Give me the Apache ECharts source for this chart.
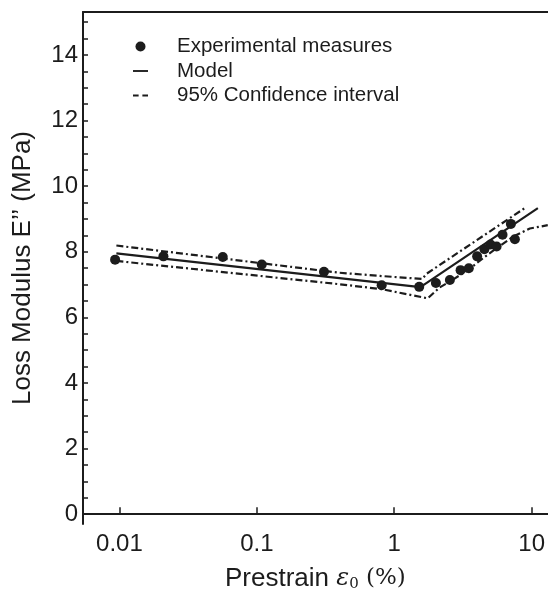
<!DOCTYPE html>
<html>
<head>
<meta charset="utf-8">
<script src="https://cdn.jsdelivr.net/npm/echarts@6/dist/echarts.min.js"></script>
<style>html,body{margin:0;padding:0;background:#fff;}#c{width:548px;height:597px;}</style>
</head>
<body>
<div id="c"></div>
<script>
// Experimental measures (prestrain %, loss modulus MPa)
const expX = [0.0093, 0.0209, 0.0565, 0.1086, 0.308, 0.81, 1.52, 2.01, 2.54, 3.04, 3.49, 4.01, 4.53, 5.02, 5.56, 6.14, 7.06, 7.55];
const expY = [7.76, 7.86, 7.84, 7.61, 7.39, 6.98, 6.93, 7.05, 7.14, 7.44, 7.50, 7.86, 8.08, 8.22, 8.16, 8.52, 8.85, 8.38];
// Model
const modelX = [0.0095, 1.55, 11.1];
const modelY = [7.95, 6.92, 9.33];
// 95% confidence interval bounds
const upperX = [0.0095, 0.4, 0.81, 1.6, 1.72, 8.9];
const upperY = [8.19, 7.36, 7.26, 7.17, 7.33, 9.33];
const lowerX = [0.0095, 0.4, 0.81, 1.75, 2.14, 2.69, 3.36, 4.44, 5.56, 7.33, 9.7, 13.1];
const lowerY = [7.72, 7.01, 6.86, 6.58, 6.91, 7.16, 7.41, 7.81, 8.11, 8.46, 8.71, 8.81];
// Axis ticks
const xTickValues = [0.01, 0.1, 1, 10];
const xTickLabels = ['0.01', '0.1', '1', '10'];
const yLabelValues = [0, 2, 4, 6, 8, 10, 12, 14];
const yTickValues = [0, 0.5, 1, 1.5, 2, 2.5, 3, 3.5, 4, 4.5, 5, 5.5, 6, 6.5, 7, 7.5, 8, 8.5, 9, 9.5, 10, 10.5, 11, 11.5, 12, 12.5, 13, 13.5, 14, 14.5, 15];

const zip = (a, b) => a.map((v, i) => [v, b[i]]);
const ink = '#1c1c1c';
const font = 'Liberation Sans, Arial, Helvetica, sans-serif';
const serif = 'DejaVu Serif, Liberation Serif, serif';

const chart = echarts.init(document.getElementById('c'), null, {renderer: 'canvas'});
chart.setOption({
  animation: false,
  backgroundColor: '#fff',
  grid: {left: 83, right: 0, top: 12, bottom: 65, containLabel: false},
  legend: {
    orient: 'vertical', left: 133, top: 36, padding: 0, itemGap: 3.5,
    itemWidth: 15, itemHeight: 10,
    textStyle: {fontFamily: font, fontSize: 20.5, color: ink, lineHeight: 21, padding: [0, 0, 0, 24]},
    data: [
      {name: 'Experimental measures', icon: 'circle', itemStyle: {color: ink, opacity: 1}},
      {name: 'Model', icon: 'path://M0,0H16V2H0Z', itemStyle: {color: ink}},
      {name: '95% Confidence interval', icon: 'path://M0,0H6V2H0Z M10,0H16V2H10Z', itemStyle: {color: ink}}
    ]
  },
  xAxis: [{
    type: 'log', logBase: 10, min: 0.00543, max: 13.1,
    position: 'bottom',
    name: '{a|Prestrain }{e|ε}{s|0}{b| (%)}',
    nameLocation: 'middle', nameGap: 41,
    nameTextStyle: {
      rich: {
        a: {fontFamily: font, fontSize: 26, color: ink},
        e: {fontFamily: serif, fontStyle: 'italic', fontSize: 24, color: ink},
        s: {fontFamily: serif, fontSize: 15, color: ink, verticalAlign: 'bottom', padding: [12, 0, 0, 0]},
        b: {fontFamily: serif, fontSize: 23, color: ink}
      }
    },
    axisLine: {show: true, lineStyle: {color: ink, width: 2}},
    axisTick: {show: true, inside: true, length: 7, lineStyle: {color: ink, width: 1.5}, customValues: xTickValues},
    axisLabel: {
      show: true, fontFamily: font, fontSize: 24, color: ink, margin: 8,
      customValues: xTickValues,
      formatter: v => {
        let best = 0;
        xTickValues.forEach((t, i) => { if (Math.abs(Math.log10(t) - Math.log10(v)) < Math.abs(Math.log10(xTickValues[best]) - Math.log10(v))) best = i; });
        return xTickLabels[best];
      }
    },
    minorTick: {show: false},
    splitLine: {show: false}
  }, {
    type: 'log', logBase: 10, min: 0.00543, max: 13.1,
    position: 'top',
    axisLine: {show: true, lineStyle: {color: ink, width: 2}},
    axisTick: {show: false}, axisLabel: {show: false}, splitLine: {show: false}
  }],
  yAxis: {
    type: 'value', min: -0.3, max: 15.31,
    name: 'Loss Modulus E’’ (MPa)',
    nameLocation: 'middle', nameGap: 47,
    nameTextStyle: {fontFamily: font, fontSize: 26, color: ink},
    axisLine: {show: true, lineStyle: {color: ink, width: 2}},
    axisTick: {show: true, inside: true, length: 5, lineStyle: {color: ink, width: 1.5}, customValues: yTickValues},
    axisLabel: {show: true, fontFamily: font, fontSize: 24, color: ink, margin: 5, customValues: yLabelValues},
    splitLine: {show: false}
  },
  series: [
    {
      name: '95% Confidence interval', type: 'line', symbol: 'none', xAxisIndex: 0,
      data: zip(upperX, upperY), itemStyle: {color: ink},
      lineStyle: {color: ink, width: 2.2, type: [7, 3, 2, 3]}, z: 2
    },
    {
      name: '95% Confidence interval', type: 'line', symbol: 'none', xAxisIndex: 0,
      data: zip(lowerX, lowerY), itemStyle: {color: ink},
      lineStyle: {color: ink, width: 2.2, type: [7, 3, 2, 3]}, z: 2
    },
    {
      name: 'Model', type: 'line', symbol: 'none', xAxisIndex: 0,
      data: zip(modelX, modelY), itemStyle: {color: ink},
      lineStyle: {color: ink, width: 2.2}, z: 3
    },
    {
      name: 'Experimental measures', type: 'scatter', xAxisIndex: 0,
      symbol: 'circle', symbolSize: 10,
      data: zip(expX, expY),
      itemStyle: {color: ink, opacity: 1}, z: 4
    }
  ]
});
</script>
</body>
</html>
